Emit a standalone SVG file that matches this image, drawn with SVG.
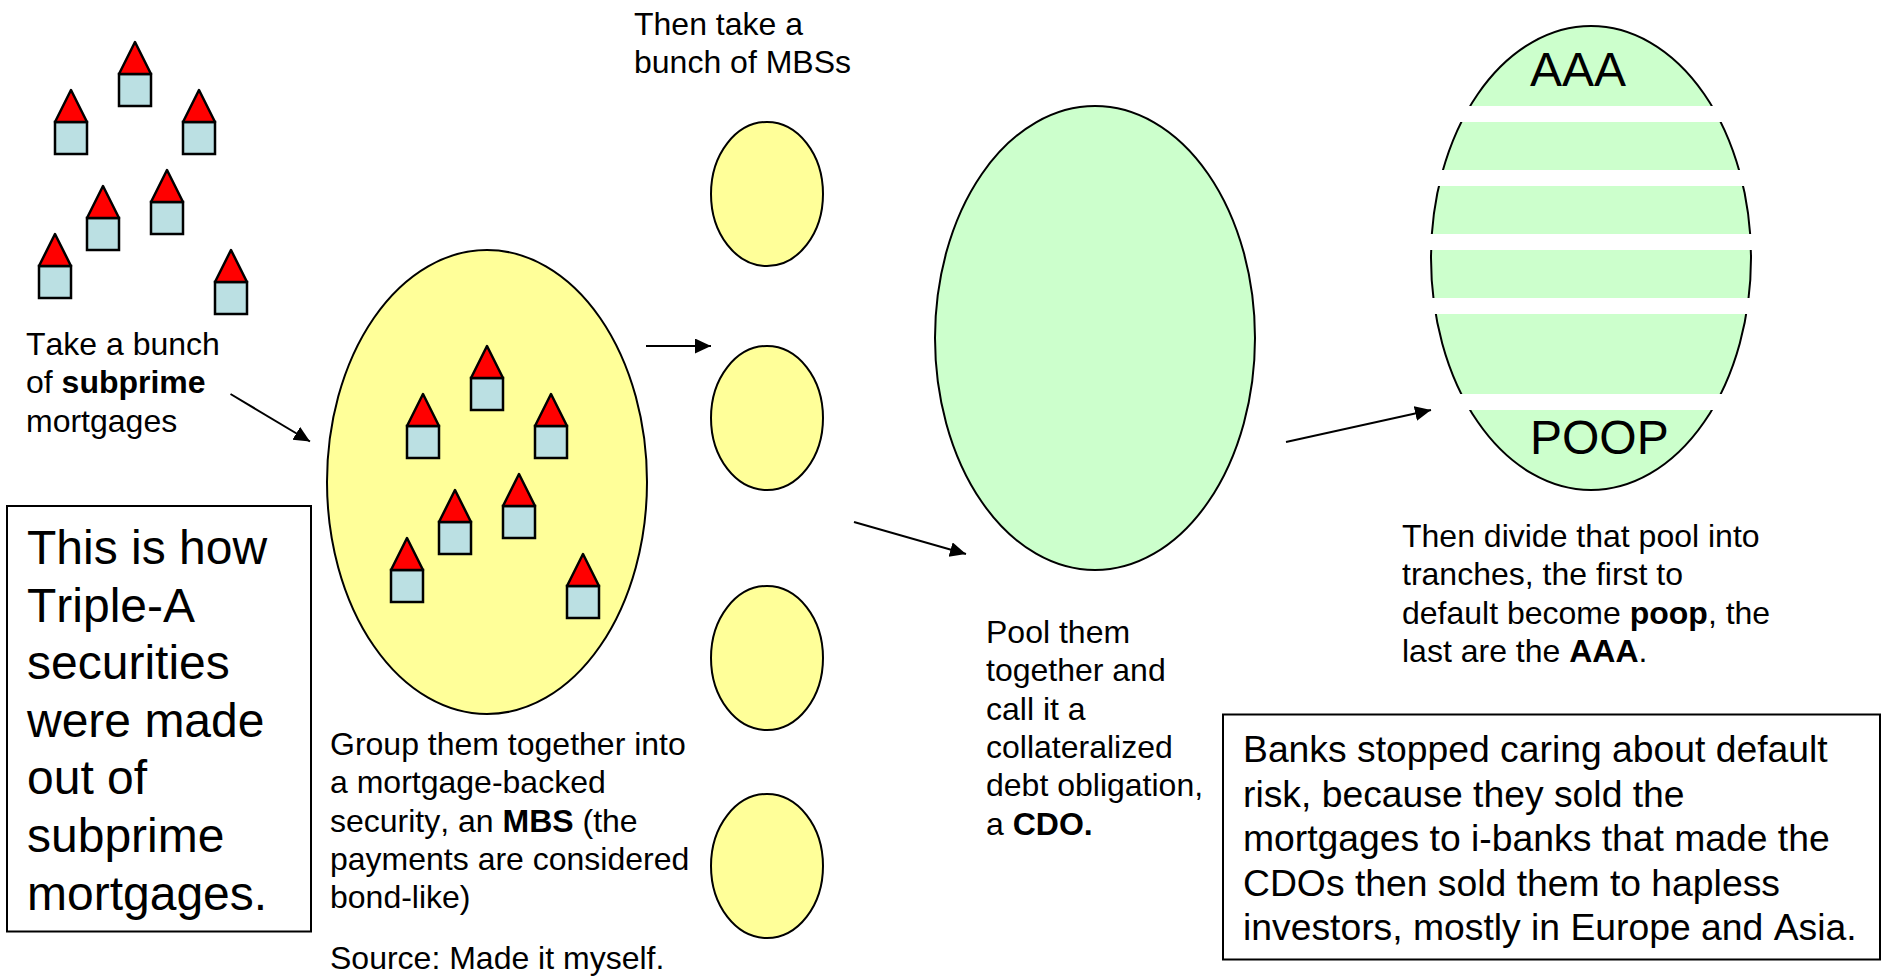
<svg xmlns="http://www.w3.org/2000/svg" width="1881" height="976" viewBox="0 0 1881 976">
<style>
text{font-family:"Liberation Sans",Arial,sans-serif;fill:#000;font-kerning:none}
.t{font-size:32px}.b{font-weight:bold}.l{font-size:48px}.m{font-size:37.3px}
.y{fill:#ffff99;stroke:#000;stroke-width:2}
.g{fill:#ccffcc;stroke:#000;stroke-width:2}
.box{fill:#fff;stroke:#000;stroke-width:2}
.wall{fill:#bbe0e3;stroke:#000;stroke-width:2.5}
.roof{fill:#ff0000;stroke:#000;stroke-width:2.5;stroke-linejoin:round}
.c{stroke:#000;stroke-width:2;fill:none;marker-end:url(#a)}
.bar{fill:#fff}
</style>
<defs>
<marker id="a" markerUnits="userSpaceOnUse" markerWidth="20" markerHeight="16" refX="16" refY="7.500" orient="auto"><path d="M0 0L16 7.500L0 15Z" fill="#000"/></marker>
<g id="house"><rect class="wall" x="-16" y="32" width="32" height="32"/><path class="roof" d="M0 0L16 32H-16Z"/></g>
</defs>
<g id="source-houses">
<use href="#house" x="135" y="42"/><use href="#house" x="71" y="90"/><use href="#house" x="199" y="90"/><use href="#house" x="167" y="170"/><use href="#house" x="103" y="186"/><use href="#house" x="55" y="234"/><use href="#house" x="231" y="250"/>
</g>
<g id="label-subprime"><text class="t" x="26" y="355">Take a bunch</text><text class="t" x="26" y="393">of <tspan class="b">subprime</tspan></text><text class="t" x="26" y="432">mortgages</text></g>
<g id="mbs"><ellipse class="y" cx="487" cy="482" rx="160" ry="232"/>
<use href="#house" x="487" y="346"/><use href="#house" x="423" y="394"/><use href="#house" x="551" y="394"/><use href="#house" x="519" y="474"/><use href="#house" x="455" y="490"/><use href="#house" x="407" y="538"/><use href="#house" x="583" y="554"/></g>
<g id="label-mbs"><text class="t" x="330" y="755">Group them together into</text><text class="t" x="330" y="793">a mortgage-backed</text><text class="t" x="330" y="832">security, an <tspan class="b">MBS</tspan> (the</text><text class="t" x="330" y="870">payments are considered</text><text class="t" x="330" y="908">bond-like)</text><text class="t" x="330" y="969">Source: Made it myself.</text></g>
<g id="title-box"><rect class="box" x="7" y="506" width="304" height="425.500"/><text class="l" x="27" y="564">This is how</text><text class="l" x="27" y="621.500">Triple-A</text><text class="l" x="27" y="679">securities</text><text class="l" x="27" y="736.500">were made</text><text class="l" x="27" y="794">out of</text><text class="l" x="27" y="851.500">subprime</text><text class="l" x="27" y="909.500">mortgages.</text></g>
<g id="label-mbss"><text class="t" x="634" y="35">Then take a</text><text class="t" x="634" y="73">bunch of MBSs</text></g>
<g id="mbs-1"><ellipse class="y" cx="767" cy="194" rx="56" ry="72"/></g>
<g id="mbs-2"><ellipse class="y" cx="767" cy="418" rx="56" ry="72"/></g>
<g id="mbs-3"><ellipse class="y" cx="767" cy="658" rx="56" ry="72"/></g>
<g id="mbs-4"><ellipse class="y" cx="767" cy="866" rx="56" ry="72"/></g>
<g id="cdo"><ellipse class="g" cx="1095" cy="338" rx="160" ry="232"/></g>
<g id="label-cdo"><text class="t" x="986" y="643">Pool them</text><text class="t" x="986" y="681">together and</text><text class="t" x="986" y="720">call it a</text><text class="t" x="986" y="758">collateralized</text><text class="t" x="986" y="796">debt obligation,</text><text class="t" x="986" y="835">a <tspan class="b">CDO.</tspan></text></g>
<g id="tranches"><ellipse class="g" cx="1591" cy="258" rx="160" ry="232"/>
<rect class="bar" x="1425" y="106" width="332" height="16"/><rect class="bar" x="1425" y="170" width="332" height="16"/><rect class="bar" x="1425" y="234" width="332" height="16"/><rect class="bar" x="1425" y="298" width="332" height="16"/><rect class="bar" x="1425" y="394" width="332" height="16"/>
<text class="l" x="1530" y="86">AAA</text><text class="l" x="1530" y="454">POOP</text></g>
<g id="label-tranches"><text class="t" x="1402" y="547">Then divide that pool into</text><text class="t" x="1402" y="585">tranches, the first to</text><text class="t" x="1402" y="624">default become <tspan class="b">poop</tspan>, the</text><text class="t" x="1402" y="662">last are the <tspan class="b">AAA</tspan>.</text></g>
<g id="banks-box"><rect class="box" x="1223" y="714.500" width="657" height="245"/><text class="m" x="1243" y="762">Banks stopped caring about default</text><text class="m" x="1243" y="806.500">risk, because they sold the</text><text class="m" x="1243" y="851">mortgages to i-banks that made the</text><text class="m" x="1243" y="895.500">CDOs then sold them to hapless</text><text class="m" x="1243" y="940">investors, mostly in Europe and Asia.</text></g>
<g id="connectors">
<path class="c" d="M230.500 394L310 441.500"/><path class="c" d="M646 346H711"/><path class="c" d="M854 522L966 554"/><path class="c" d="M1286 442L1431 410"/>
</g>
</svg>
